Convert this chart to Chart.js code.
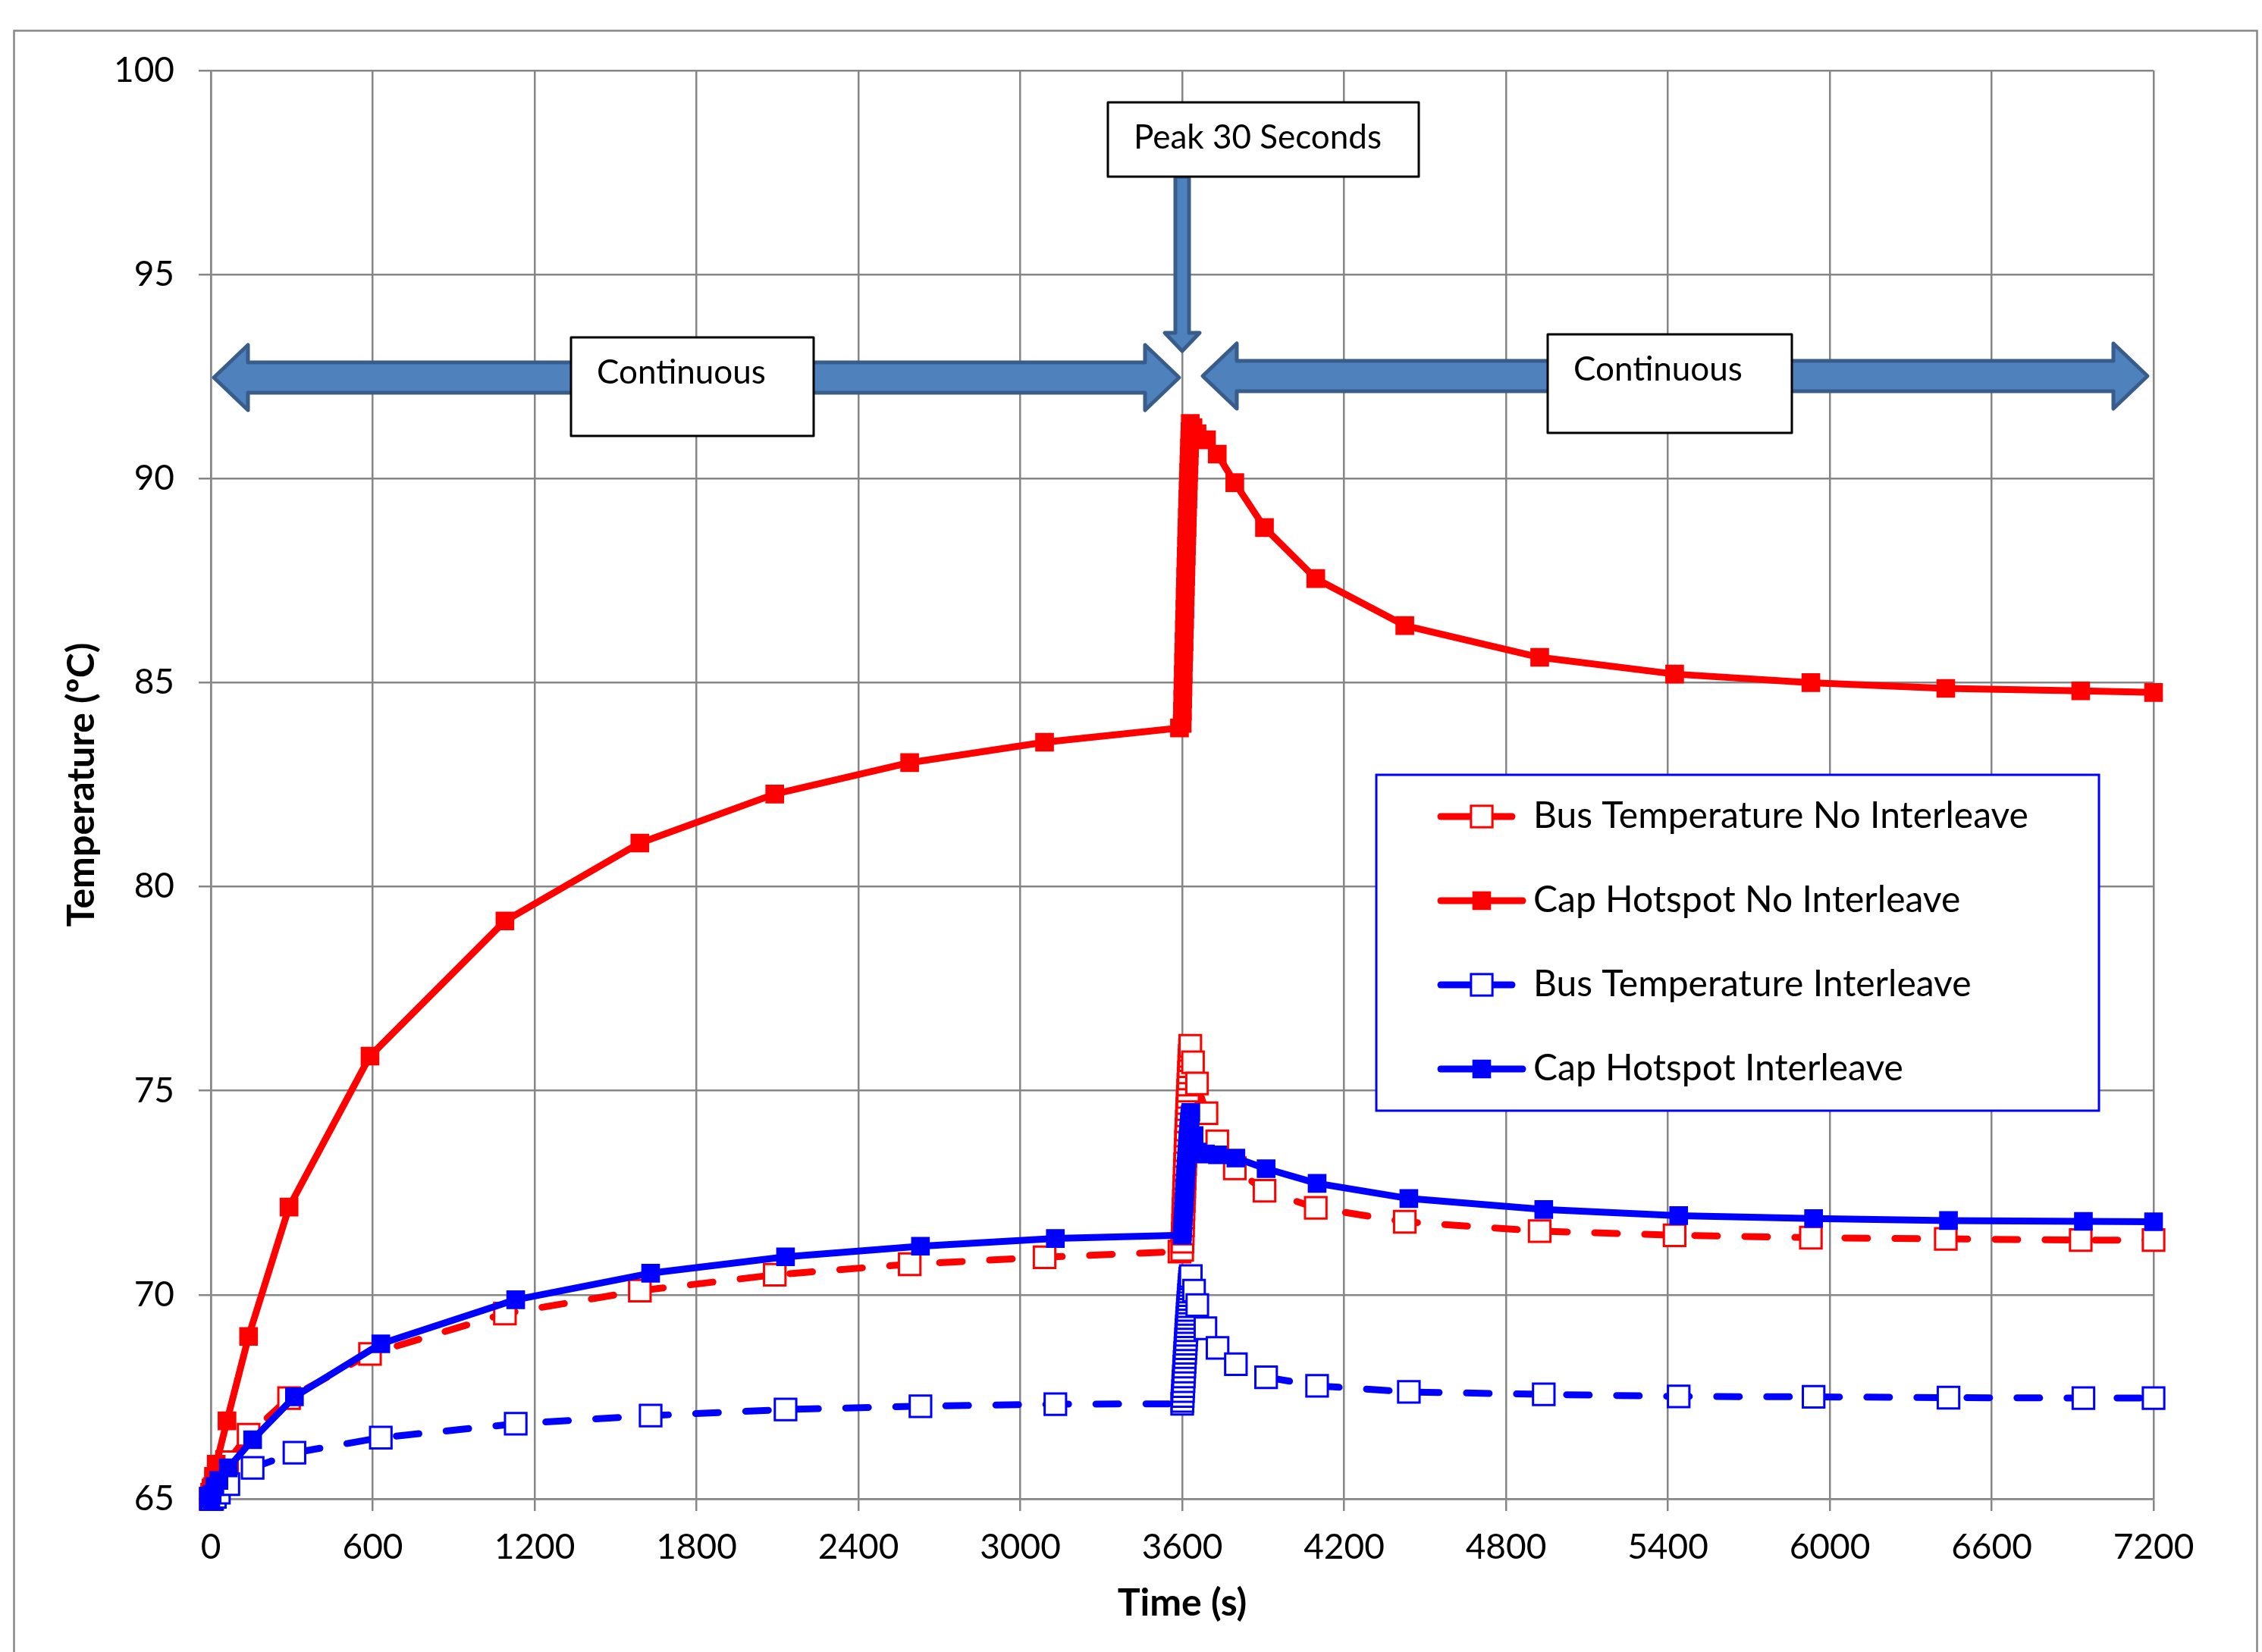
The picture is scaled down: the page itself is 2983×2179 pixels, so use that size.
<!DOCTYPE html>
<html>
<head>
<meta charset="utf-8">
<script src="https://cdn.jsdelivr.net/npm/chart.js@4.4.1/dist/chart.umd.min.js"></script>
<style>
	html, body { margin: 0; padding: 0; background: #fff; }
	canvas { display: block; }
</style>
</head>
<body>
<canvas id="tempChart" width="2983" height="2179"></canvas>
<script>
// Sample times (s) - no interleave runs (logged every second during the 30 s peak)
const timeNoInterleave = [
	0, 5, 10, 20, 60, 140, 290, 590, 1090, 1590, 2090, 2590, 3090, 3590,
	3600, 3601, 3602, 3603, 3604, 3605, 3606, 3607, 3608, 3609, 3610, 3611, 3612, 3613, 3614,
	3615, 3616, 3617, 3618, 3619, 3620, 3621, 3622, 3623, 3624, 3625, 3626, 3627, 3628, 3629,
	3630, 3640, 3655, 3690, 3730, 3795, 3905, 4095, 4425, 4925, 5425, 5930, 6430, 6930, 7200,
];

// Sample times (s) - interleave runs
const timeInterleave = [
	0, 5, 15, 30, 65, 155, 310, 630, 1130, 1630, 2130, 2630, 3130, 3600,
	3601, 3602, 3603, 3604, 3605, 3606, 3607, 3608, 3609, 3610, 3611, 3612, 3613, 3614, 3615,
	3616, 3617, 3618, 3619, 3620, 3621, 3622, 3623, 3624, 3625, 3626, 3627, 3628, 3629, 3630,
	3632, 3644, 3656, 3686, 3731, 3799, 3911, 4100, 4440, 4940, 5440, 5940, 6440, 6940, 7200,
];

// Temperatures (C)
const busNoInterleave = [
	65.0, 65.1, 65.2, 65.4, 65.9, 66.57, 67.47, 68.55, 69.54, 70.1, 70.49, 70.75, 70.92, 71.06,
	71.1, 71.3, 71.5, 71.7, 71.9, 72.1, 72.3, 72.5, 72.65, 72.85, 73.05, 73.2, 73.4, 73.55, 73.75,
	73.9, 74.05, 74.25, 74.4, 74.55, 74.7, 74.85, 75.0, 75.15, 75.3, 75.45, 75.6, 75.75, 75.85, 76.0,
	76.1, 75.7, 75.18, 74.45, 73.76, 73.1, 72.55, 72.13, 71.79, 71.56, 71.46, 71.4, 71.37, 71.34, 71.34,
];
const capNoInterleave = [
	65.0, 65.3, 65.55, 65.85, 66.91, 68.98, 72.15, 75.85, 79.16, 81.07, 82.27, 83.04, 83.54, 83.89,
	84.0, 84.3, 84.6, 84.9, 85.2, 85.5, 85.75, 86.0, 86.3, 86.55, 86.8, 87.1, 87.35, 87.6, 87.85,
	88.1, 88.35, 88.6, 88.8, 89.05, 89.3, 89.5, 89.7, 89.95, 90.15, 90.35, 90.55, 90.75, 90.95, 91.15,
	91.35, 91.25, 91.1, 90.95, 90.6, 89.9, 88.8, 87.55, 86.4, 85.62, 85.21, 85.0, 84.86, 84.8, 84.76,
];
const busInterleave = [
	65.0, 65.0, 65.05, 65.15, 65.36, 65.76, 66.13, 66.5, 66.84, 67.04, 67.19, 67.27, 67.32, 67.33,
	67.4, 67.52, 67.64, 67.76, 67.88, 68.0, 68.12, 68.24, 68.36, 68.47, 68.58, 68.69, 68.8, 68.91, 69.02,
	69.13, 69.23, 69.33, 69.43, 69.53, 69.63, 69.72, 69.81, 69.9, 69.99, 70.08, 70.16, 70.24, 70.32, 70.4,
	70.46, 70.1, 69.75, 69.18, 68.7, 68.3, 67.98, 67.77, 67.62, 67.56, 67.51, 67.5, 67.48, 67.47, 67.47,
];
const capInterleave = [
	65.0, 65.1, 65.3, 65.45, 65.76, 66.45, 67.5, 68.8, 69.88, 70.53, 70.93, 71.19, 71.38, 71.46,
	71.55, 71.68, 71.8, 71.92, 72.04, 72.16, 72.28, 72.4, 72.51, 72.62, 72.73, 72.84, 72.95, 73.05, 73.15,
	73.25, 73.35, 73.45, 73.55, 73.64, 73.73, 73.82, 73.91, 74.0, 74.08, 74.16, 74.24, 74.31, 74.37, 74.42,
	74.47, 73.9, 73.5, 73.45, 73.43, 73.35, 73.09, 72.73, 72.36, 72.09, 71.94, 71.87, 71.82, 71.8, 71.79,
];

// Axis ticks
const xTicks = [0, 600, 1200, 1800, 2400, 3000, 3600, 4200, 4800, 5400, 6000, 6600, 7200];
const yTicks = [65, 70, 75, 80, 85, 90, 95, 100];

const seriesLabels = [
	'Bus Temperature No Interleave',
	'Cap Hotspot No Interleave',
	'Bus Temperature Interleave',
	'Cap Hotspot Interleave',
];

const RED = '#ff0000';
const BLUE = '#0000ff';
const GRID = '#868686';

Chart.defaults.font.family = 'Lato';
Chart.defaults.color = '#000';

function toPoints(times, values) {
	return times.map((t, i) => ({ x: t, y: values[i] }));
}

function series(label, times, values, color, dashed, filled, order) {
	return {
		label: label,
		data: toPoints(times, values),
		borderColor: color,
		backgroundColor: color,
		borderWidth: 9,
		borderDash: dashed ? [30, 36] : [],
		borderCapStyle: 'round',
		borderJoinStyle: 'round',
		pointStyle: 'rect',
		pointRadius: filled ? 16 : 20,
		pointBorderWidth: filled ? 2 : 3,
		pointBackgroundColor: filled ? color : '#fff',
		pointBorderColor: color,
		tension: 0,
		clip: false,
		order: order,
	};
}

// Text boxes and block arrows (pixel positions)
const shapes = {
	peakBox: { x: 1461, y: 135, w: 410, h: 98, text: 'Peak 30 Seconds' },
	leftBox: { x: 753, y: 445, w: 320, h: 130, text: 'Continuous' },
	rightBox: { x: 2041, y: 441, w: 322, h: 130, text: 'Continuous' },
	arrowY: 498,
};

function doubleArrow(ctx, x1, x2, yc, shaftHalf, headHalf, headLen) {
	ctx.beginPath();
	ctx.moveTo(x1, yc);
	ctx.lineTo(x1 + headLen, yc - headHalf);
	ctx.lineTo(x1 + headLen, yc - shaftHalf);
	ctx.lineTo(x2 - headLen, yc - shaftHalf);
	ctx.lineTo(x2 - headLen, yc - headHalf);
	ctx.lineTo(x2, yc);
	ctx.lineTo(x2 - headLen, yc + headHalf);
	ctx.lineTo(x2 - headLen, yc + shaftHalf);
	ctx.lineTo(x1 + headLen, yc + shaftHalf);
	ctx.lineTo(x1 + headLen, yc + headHalf);
	ctx.closePath();
	ctx.fill();
	ctx.stroke();
}

function downArrow(ctx, xc, y1, y2, shaftHalf, headHalf, headLen) {
	ctx.beginPath();
	ctx.moveTo(xc - shaftHalf, y1);
	ctx.lineTo(xc + shaftHalf, y1);
	ctx.lineTo(xc + shaftHalf, y2 - headLen);
	ctx.lineTo(xc + headHalf, y2 - headLen);
	ctx.lineTo(xc, y2);
	ctx.lineTo(xc - headHalf, y2 - headLen);
	ctx.lineTo(xc - shaftHalf, y2 - headLen);
	ctx.closePath();
	ctx.fill();
	ctx.stroke();
}

function textBox(ctx, box) {
	ctx.fillStyle = '#fff';
	ctx.strokeStyle = '#000';
	ctx.lineWidth = 3;
	ctx.fillRect(box.x, box.y, box.w, box.h);
	ctx.strokeRect(box.x, box.y, box.w, box.h);
	ctx.fillStyle = '#000';
	ctx.font = '44px Lato';
	ctx.textAlign = 'left';
	ctx.textBaseline = 'middle';
	ctx.fillText(box.text, box.x + 34, box.y + 47);
}

const shapesPlugin = {
	id: 'shapes',
	afterDraw(chart) {
		const ctx = chart.ctx;
		const x = chart.scales.x;
		const peakX = x.getPixelForValue(3600);
		ctx.save();

		// outer chart border
		ctx.strokeStyle = GRID;
		ctx.lineWidth = 2.5;
		ctx.strokeRect(18.5, 40.5, 2958, 2200);

		ctx.fillStyle = '#4f81bd';
		ctx.strokeStyle = '#385d8a';
		ctx.lineWidth = 5;
		ctx.lineJoin = 'round';
		doubleArrow(ctx, x.getPixelForValue(0) + 4, peakX - 4, shapes.arrowY, 20, 43, 45);
		doubleArrow(ctx, peakX + 27, x.getPixelForValue(7200) - 8, shapes.arrowY - 2, 20, 43, 45);
		downArrow(ctx, peakX, shapes.peakBox.y + shapes.peakBox.h, 463, 9, 23, 24);

		textBox(ctx, shapes.leftBox);
		textBox(ctx, shapes.rightBox);
		textBox(ctx, shapes.peakBox);
		ctx.restore();
	},
};

// Legend drawn inside the plot like the original
const legendPlugin = {
	id: 'boxLegend',
	afterDraw(chart) {
		const ctx = chart.ctx;
		const left = 1815, top = 1022, right = 2768, bottom = 1465;
		ctx.save();
		ctx.fillStyle = '#fff';
		ctx.fillRect(left, top, right - left, bottom - top);
		ctx.strokeStyle = BLUE;
		ctx.lineWidth = 3;
		ctx.strokeRect(left, top, right - left, bottom - top);

		chart.data.datasets.forEach((ds, i) => {
			const y = 1077 + i * 111;
			const dashed = ds.borderDash.length > 0;
			ctx.strokeStyle = ds.borderColor;
			ctx.lineWidth = ds.borderWidth;
			ctx.lineCap = 'round';
			ctx.beginPath();
			ctx.moveTo(1900, y);
			ctx.lineTo(dashed ? 1994 : 2008, y);
			ctx.stroke();

			const side = ds.pointRadius * Math.SQRT2;
			ctx.fillStyle = ds.pointBackgroundColor;
			ctx.lineWidth = ds.pointBorderWidth;
			ctx.strokeStyle = ds.pointBorderColor;
			ctx.fillRect(1954 - side / 2, y - side / 2, side, side);
			ctx.strokeRect(1954 - side / 2, y - side / 2, side, side);

			ctx.fillStyle = '#000';
			ctx.font = '48px Lato';
			ctx.textAlign = 'left';
			ctx.textBaseline = 'middle';
			ctx.fillText(ds.label, 2022, y);
		});
		ctx.restore();
	},
};

const chart = new Chart(document.getElementById('tempChart'), {
	type: 'line',
	data: {
		datasets: [
			series(seriesLabels[0], timeNoInterleave, busNoInterleave, RED, true, false, 4),
			series(seriesLabels[1], timeNoInterleave, capNoInterleave, RED, false, true, 3),
			series(seriesLabels[2], timeInterleave, busInterleave, BLUE, true, false, 2),
			series(seriesLabels[3], timeInterleave, capInterleave, BLUE, false, true, 1),
		],
	},
	options: {
		responsive: false,
		animation: false,
		devicePixelRatio: 1,
		layout: { padding: { left: 0, top: 93, right: 143, bottom: 0 } },
		plugins: {
			legend: { display: false },
			tooltip: { enabled: false },
		},
		scales: {
			x: {
				type: 'linear',
				min: 0,
				max: 7200,
				afterBuildTicks: (scale) => { scale.ticks = xTicks.map((v) => ({ value: v })); },
				afterFit: (scale) => { scale.height = 202; },
				ticks: {
					font: { size: 46 },
					color: '#000',
					padding: 21,
					maxRotation: 0,
					callback: (value) => String(value),
				},
				grid: { color: GRID, lineWidth: 2.5, tickLength: 16, tickColor: GRID },
				border: { color: GRID, width: 2.5 },
				title: {
					display: true,
					text: 'Time (s)',
					font: { size: 50, weight: 'bold' },
					color: '#000',
					padding: { top: 0, bottom: 34 },
				},
			},
			y: {
				min: 65,
				max: 100,
				afterBuildTicks: (scale) => { scale.ticks = yTicks.map((v) => ({ value: v })); },
				afterFit: (scale) => { scale.width = 278; },
				ticks: { font: { size: 46 }, color: '#000', padding: 32 },
				grid: { color: GRID, lineWidth: 2.5, tickLength: 16, tickColor: GRID },
				border: { color: GRID, width: 2.5 },
				title: {
					display: true,
					text: 'Temperature (ºC)',
					font: { size: 50, weight: 'bold' },
					color: '#000',
					padding: { top: 78, bottom: 0 },
				},
			},
		},
	},
	plugins: [shapesPlugin, legendPlugin],
});
</script>
</body>
</html>
